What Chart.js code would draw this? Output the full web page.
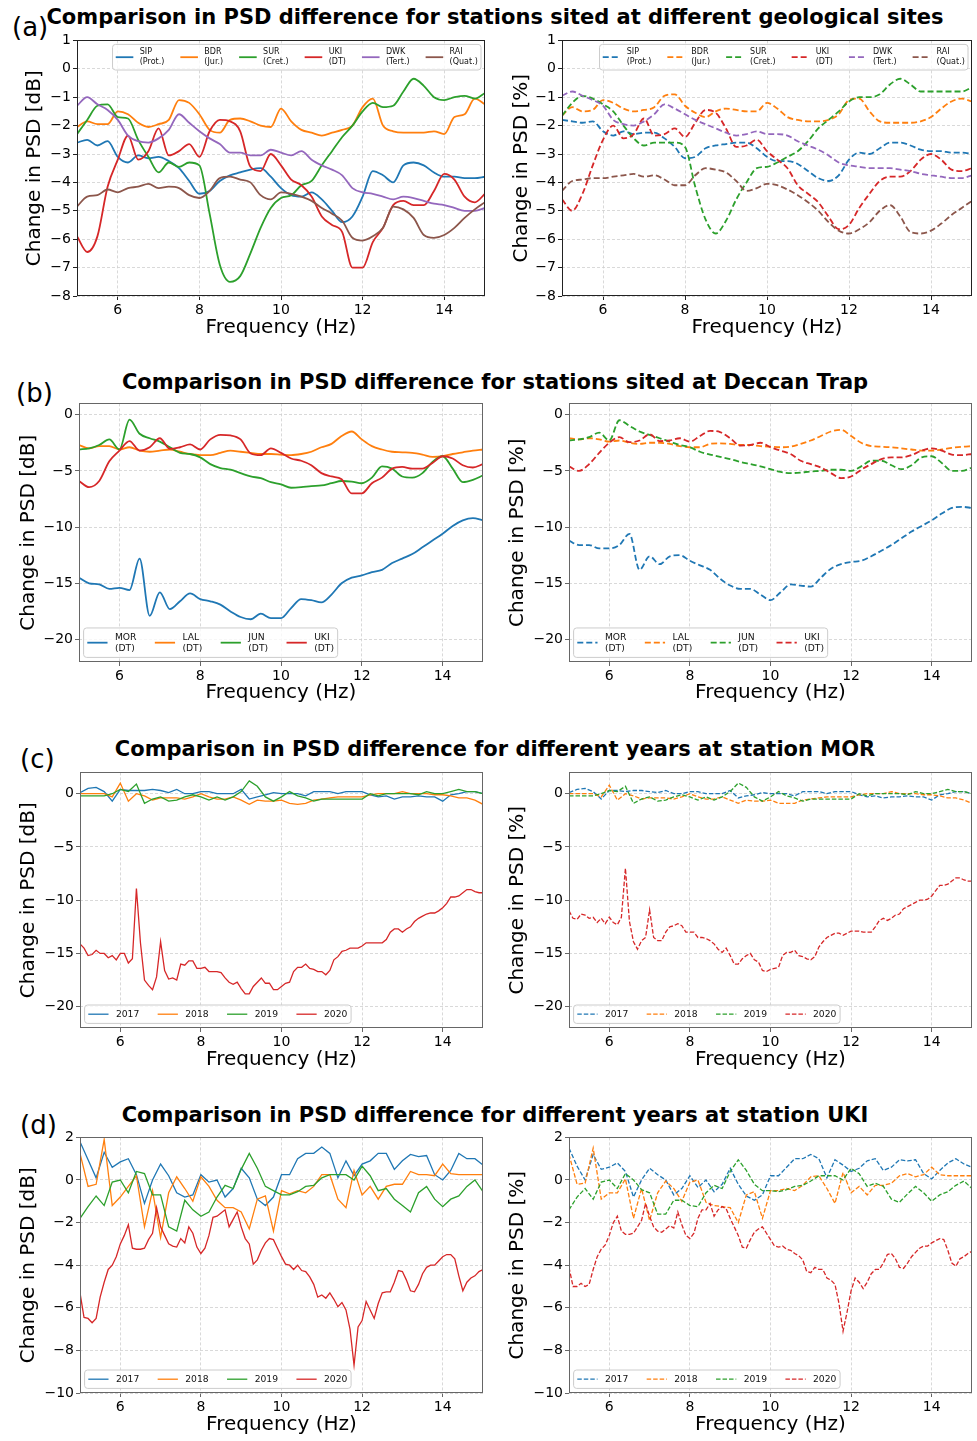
<!DOCTYPE html>
<html>
<head>
<meta charset="utf-8">
<script src="https://cdn.jsdelivr.net/npm/chart.js@4.4.0/dist/chart.umd.min.js"></script>
<style>
  body { margin: 0; width: 977px; height: 1441px; background: #fff; position: relative; overflow: hidden; font-family: "DejaVu Sans", sans-serif; }
  .title { position: absolute; font-weight: bold; font-size: 21px; line-height: 1; white-space: nowrap; transform: translateX(-50%); }
  .tag { position: absolute; font-size: 26px; line-height: 1; }
  canvas { position: absolute; }
</style>
</head>
<body>
<div class="tag" style="left:12px;top:14px">(a)</div>
<div class="title" style="left:495px;top:7px">Comparison in PSD difference for stations sited at different geological sites</div>
<div class="tag" style="left:16px;top:380px">(b)</div>
<div class="title" style="left:495px;top:372px">Comparison in PSD difference for stations sited at Deccan Trap</div>
<div class="tag" style="left:20px;top:746px">(c)</div>
<div class="title" style="left:495px;top:739px">Comparison in PSD difference for different years at station MOR</div>
<div class="tag" style="left:20px;top:1112px">(d)</div>
<div class="title" style="left:495px;top:1105px">Comparison in PSD difference for different years at station UKI</div>

<canvas id="aL"></canvas><canvas id="aR"></canvas>
<canvas id="bL"></canvas><canvas id="bR"></canvas>
<canvas id="cL"></canvas><canvas id="cR"></canvas>
<canvas id="dL"></canvas><canvas id="dR"></canvas>

<script>
// frequency grids (Hz)
const freqS = [5,5.25,5.5,5.75,6,6.25,6.5,6.75,7,7.25,7.5,7.75,8,8.25,8.5,8.75,9,9.25,9.5,9.75,10,10.25,10.5,10.75,11,11.25,11.5,11.75,12,12.25,12.5,12.75,13,13.25,13.5,13.75,14,14.25,14.5,14.75,15];
const freqC = [5,5.2,5.4,5.6,5.8,6,6.2,6.4,6.6,6.8,7,7.2,7.4,7.6,7.8,8,8.2,8.4,8.6,8.8,9,9.2,9.4,9.6,9.8,10,10.2,10.4,10.6,10.8,11,11.2,11.4,11.6,11.8,12,12.2,12.4,12.6,12.8,13,13.2,13.4,13.6,13.8,14,14.2,14.4,14.6,14.8,15];
const freqF = [5,5.1,5.2,5.3,5.4,5.5,5.6,5.7,5.8,5.9,6,6.1,6.2,6.3,6.4,6.5,6.6,6.7,6.8,6.9,7,7.1,7.2,7.3,7.4,7.5,7.6,7.7,7.8,7.9,8,8.1,8.2,8.3,8.4,8.5,8.6,8.7,8.8,8.9,9,9.1,9.2,9.3,9.4,9.5,9.6,9.7,9.8,9.9,10,10.1,10.2,10.3,10.4,10.5,10.6,10.7,10.8,10.9,11,11.1,11.2,11.3,11.4,11.5,11.6,11.7,11.8,11.9,12,12.1,12.2,12.3,12.4,12.5,12.6,12.7,12.8,12.9,13,13.1,13.2,13.3,13.4,13.5,13.6,13.7,13.8,13.9,14,14.1,14.2,14.3,14.4,14.5,14.6,14.7,14.8,14.9,15];

// tick labels
const xTicks = [6, 8, 10, 12, 14];
const yTicksA = [-8, -7, -6, -5, -4, -3, -2, -1, 0, 1];
const yTicksBC = [-20, -15, -10, -5, 0];
const yTicksD = [-10, -8, -6, -4, -2, 0, 2];

// (a) geological sites, dB
const sipDb = [-2.6,-2.5,-2.7,-2.55,-3.1,-3.3,-3.05,-3.15,-3.1,-3.25,-3.5,-3.95,-4.4,-4.3,-3.95,-3.75,-3.65,-3.55,-3.5,-3.8,-4.2,-4.45,-4.5,-4.35,-4.6,-5.0,-5.4,-5.2,-4.5,-3.6,-3.75,-4.0,-3.4,-3.3,-3.4,-3.65,-3.8,-3.8,-3.85,-3.85,-3.8];
const bdrDb = [-2.05,-1.85,-1.95,-1.95,-1.5,-1.6,-1.9,-2.05,-1.95,-1.8,-1.1,-1.2,-1.6,-2.15,-2.25,-1.8,-1.75,-1.85,-2.0,-2.05,-1.4,-1.85,-2.15,-2.25,-2.35,-2.25,-2.15,-2.0,-1.35,-1.05,-2.0,-2.2,-2.25,-2.25,-2.25,-2.2,-2.3,-1.7,-1.6,-1.05,-1.25];
const surDb = [-2.3,-1.8,-1.3,-1.25,-1.7,-1.75,-2.5,-3.1,-3.65,-3.3,-3.45,-3.3,-3.4,-5.1,-6.9,-7.5,-7.3,-6.5,-5.6,-4.9,-4.55,-4.45,-4.1,-3.95,-3.4,-2.9,-2.4,-2.0,-1.5,-1.2,-1.35,-1.3,-0.8,-0.35,-0.6,-1.0,-1.1,-1.0,-0.95,-1.05,-0.85];
const ukiDb = [-5.9,-6.45,-5.9,-4.15,-3.2,-2.35,-3.2,-2.9,-2.1,-3.05,-2.9,-2.65,-3.1,-2.2,-1.8,-1.85,-2.2,-3.45,-3.6,-3.0,-3.4,-3.9,-4.1,-4.5,-5.2,-5.5,-5.75,-7.0,-7.0,-6.1,-5.6,-4.8,-4.65,-4.8,-4.8,-4.3,-3.7,-3.9,-4.5,-4.7,-4.4];
const dwkDb = [-1.3,-1.0,-1.25,-1.45,-1.8,-2.35,-2.55,-2.6,-2.45,-2.15,-1.6,-1.9,-2.2,-2.45,-2.65,-2.95,-2.95,-3.05,-3.05,-2.85,-2.95,-3.05,-2.9,-3.2,-3.4,-3.55,-3.75,-4.2,-4.35,-4.4,-4.5,-4.6,-4.5,-4.55,-4.65,-4.75,-4.8,-4.9,-5.0,-5.0,-4.9];
const raiDb = [-4.85,-4.5,-4.45,-4.25,-4.35,-4.2,-4.15,-4.05,-4.2,-4.15,-4.2,-4.45,-4.55,-4.3,-3.85,-3.8,-3.9,-4.0,-4.45,-4.6,-4.35,-4.4,-4.5,-4.65,-4.9,-5.1,-5.35,-5.95,-6.05,-5.9,-5.6,-4.85,-4.95,-5.25,-5.85,-5.95,-5.85,-5.6,-5.25,-4.95,-4.7];

// (a) geological sites, %
const sipPct = [-1.8,-1.85,-1.9,-1.85,-2.2,-2.35,-2.2,-2.3,-2.25,-2.25,-2.45,-2.75,-3.15,-3.1,-2.8,-2.7,-2.65,-2.6,-2.6,-2.8,-3.1,-3.25,-3.25,-3.35,-3.6,-3.85,-3.95,-3.75,-3.2,-2.95,-3.0,-2.8,-2.6,-2.6,-2.7,-2.85,-2.9,-2.9,-2.95,-2.95,-3.0];
const bdrPct = [-1.65,-1.35,-1.5,-1.45,-1.1,-1.2,-1.4,-1.5,-1.45,-1.35,-0.95,-0.9,-1.3,-1.55,-1.7,-1.5,-1.4,-1.45,-1.5,-1.5,-1.2,-1.4,-1.7,-1.8,-1.85,-1.85,-1.8,-1.6,-1.1,-1.05,-1.5,-1.85,-1.9,-1.9,-1.9,-1.85,-1.7,-1.4,-1.15,-1.05,-1.15];
const surPct = [-1.65,-1.2,-0.95,-1.05,-1.25,-1.5,-2.0,-2.45,-2.7,-2.6,-2.6,-2.6,-2.75,-4.15,-5.3,-5.8,-5.35,-4.6,-4.0,-3.5,-3.45,-3.3,-3.1,-2.9,-2.55,-2.1,-1.8,-1.5,-1.15,-1.0,-1.0,-0.9,-0.55,-0.35,-0.55,-0.8,-0.8,-0.8,-0.8,-0.8,-0.65];
const ukiPct = [-4.6,-5.0,-4.4,-3.4,-2.5,-2.0,-2.45,-2.3,-1.75,-2.35,-2.3,-2.1,-2.4,-1.9,-1.45,-1.55,-2.1,-2.75,-2.7,-2.5,-2.9,-3.2,-3.5,-4.1,-4.4,-4.7,-5.2,-5.65,-5.5,-4.9,-4.4,-3.95,-3.8,-3.8,-3.6,-3.2,-3.0,-3.2,-3.55,-3.6,-3.5];
const dwkPct = [-0.95,-0.8,-0.95,-1.1,-1.3,-1.8,-1.95,-2.0,-1.85,-1.6,-1.25,-1.4,-1.6,-1.8,-1.95,-2.1,-2.25,-2.35,-2.3,-2.2,-2.3,-2.3,-2.35,-2.55,-2.7,-2.85,-3.05,-3.3,-3.4,-3.45,-3.5,-3.5,-3.5,-3.55,-3.6,-3.7,-3.75,-3.8,-3.85,-3.85,-3.75];
const raiPct = [-4.3,-3.95,-3.9,-3.85,-3.85,-3.8,-3.75,-3.7,-3.8,-3.75,-3.9,-4.1,-4.1,-3.75,-3.5,-3.55,-3.65,-3.95,-4.3,-4.2,-4.05,-4.1,-4.25,-4.45,-4.7,-5.0,-5.4,-5.7,-5.8,-5.65,-5.4,-5.0,-4.8,-5.2,-5.75,-5.8,-5.7,-5.45,-5.15,-4.9,-4.65];

// (b) Deccan Trap stations
const morDb = [-14.5,-15.0,-15.1,-15.5,-15.4,-15.6,-12.8,-17.9,-15.8,-17.3,-16.6,-15.9,-16.4,-16.6,-16.9,-17.5,-18.0,-18.2,-17.7,-18.1,-18.1,-17.2,-16.4,-16.5,-16.7,-16.0,-15.0,-14.5,-14.3,-14.0,-13.8,-13.2,-12.8,-12.4,-11.8,-11.2,-10.6,-9.9,-9.4,-9.2,-9.4];
const lalDb = [-2.7,-3.0,-2.8,-2.8,-3.1,-2.9,-3.2,-3.3,-3.2,-3.1,-3.3,-3.5,-3.6,-3.6,-3.4,-3.2,-3.3,-3.4,-3.5,-3.5,-3.55,-3.6,-3.5,-3.3,-2.9,-2.6,-1.9,-1.5,-2.2,-2.8,-3.1,-3.3,-3.35,-3.4,-3.55,-3.75,-3.7,-3.5,-3.35,-3.2,-3.1];
const junDb = [-3.1,-3.0,-2.7,-2.2,-3.1,-0.45,-1.7,-2.1,-2.4,-2.9,-3.4,-3.5,-3.8,-4.4,-4.75,-4.9,-5.2,-5.5,-5.65,-6.0,-6.2,-6.5,-6.45,-6.35,-6.3,-6.1,-5.9,-5.95,-6.1,-5.6,-4.6,-4.8,-5.5,-5.6,-5.2,-4.2,-3.7,-4.8,-6.0,-5.8,-5.4];
const morPct = [-11.2,-11.6,-11.6,-11.9,-11.9,-11.6,-10.6,-13.8,-12.6,-13.3,-12.6,-12.5,-13.0,-13.4,-13.8,-14.6,-15.2,-15.5,-15.5,-16.0,-16.5,-15.8,-15.1,-15.2,-15.3,-14.5,-13.7,-13.3,-13.1,-13.0,-12.6,-12.1,-11.6,-11.0,-10.4,-9.9,-9.4,-8.8,-8.3,-8.2,-8.3];
const lalPct = [-2.1,-2.2,-2.1,-2.2,-2.4,-2.3,-2.5,-2.6,-2.5,-2.5,-2.6,-2.8,-2.9,-2.9,-2.6,-2.55,-2.6,-2.7,-2.7,-2.8,-2.85,-2.9,-2.85,-2.6,-2.3,-1.9,-1.5,-1.35,-1.9,-2.5,-2.8,-2.85,-2.9,-3.0,-3.1,-3.2,-3.2,-3.1,-2.95,-2.85,-2.8];
const junPct = [-2.3,-2.2,-2.0,-1.6,-2.3,-0.5,-1.0,-1.5,-1.8,-2.1,-2.4,-2.7,-2.9,-3.3,-3.55,-3.75,-3.95,-4.2,-4.4,-4.6,-4.85,-5.1,-5.2,-5.15,-5.05,-5.0,-4.9,-4.9,-5.0,-4.6,-4.1,-4.1,-4.5,-4.85,-4.5,-3.8,-3.7,-4.3,-5.0,-5.0,-4.7];

// (c) station MOR by year
const mor2017Db = [0.1,0.5,0.6,0.2,-0.7,0.4,0.3,0.3,0.3,0.4,0.3,0.1,0.4,0.0,0.0,0.2,0.2,0.0,0.0,0.0,0.4,-0.5,-0.3,-0.1,0.1,0.0,0.0,0.0,-0.2,0.2,0.2,0.2,0.0,0.2,0.2,0.2,-0.1,-0.3,-0.2,-0.5,-0.3,-0.3,-0.2,-0.3,-0.3,-0.7,-0.1,0.0,0.2,0.2,0.0];
const mor2018Db = [0.0,0.0,0.0,0.0,-0.3,1.0,-0.7,0.0,-0.2,-0.6,-0.4,-0.4,-0.4,-0.5,-0.3,0.0,-0.3,-0.5,-0.5,-0.3,-0.6,-1.0,-0.6,-0.7,-0.7,-0.6,-0.9,-1.0,-0.9,-0.6,-0.5,-0.4,-0.3,-0.3,-0.3,-0.3,-0.1,0.0,0.0,0.0,0.2,0.0,0.0,0.0,-0.1,-0.1,-0.2,-0.4,-0.4,-0.6,-1.0];
const mor2019Db = [-0.2,-0.2,-0.2,-0.2,0.0,0.4,0.2,0.9,-0.9,-0.5,-0.3,-0.7,-0.6,-0.3,-0.1,-0.3,-0.6,-0.3,-0.6,-0.3,0.2,1.2,0.7,-0.3,-0.7,-0.3,0.2,-0.2,-0.4,-0.7,-0.5,-0.5,-0.5,-0.5,-0.5,-0.5,0.0,-0.2,0.0,0.0,0.0,0.0,-0.1,0.2,0.0,0.0,0.2,0.4,0.2,0.2,0.0];
const mor2020Db = [-14.1,-14.5,-15.2,-15.1,-14.7,-15.0,-15.0,-15.4,-15.2,-15.6,-15.0,-15.0,-15.9,-15.5,-8.9,-14.0,-17.5,-18.0,-18.4,-17.2,-13.9,-16.6,-17.4,-17.3,-17.5,-16.0,-16.1,-15.7,-15.7,-16.4,-16.4,-16.3,-16.7,-16.7,-16.7,-16.8,-17.3,-17.7,-17.9,-17.7,-18.3,-18.8,-18.8,-18.1,-17.7,-17.3,-17.8,-17.8,-18.4,-18.4,-18.1,-17.8,-17.7,-16.7,-16.3,-16.3,-16.0,-16.4,-16.5,-16.7,-16.7,-17.0,-16.6,-15.6,-15.3,-14.8,-14.7,-14.5,-14.5,-14.5,-14.3,-14.0,-14.0,-14.0,-14.0,-14.0,-13.7,-13.0,-12.7,-12.7,-13.0,-12.7,-12.5,-12.0,-11.7,-11.5,-11.3,-11.2,-11.2,-11.0,-10.7,-10.3,-9.7,-9.7,-9.6,-9.3,-9.0,-9.0,-9.2,-9.3,-9.3];
const mor2017Pct = [0.1,0.4,0.5,0.2,-0.5,0.3,0.3,0.2,0.3,0.3,0.2,0.1,0.3,0.0,0.0,0.2,0.2,0.0,0.0,0.0,0.3,-0.4,-0.2,-0.1,0.1,0.0,0.0,0.0,-0.2,0.2,0.2,0.2,0.0,0.2,0.2,0.2,-0.1,-0.3,-0.2,-0.4,-0.3,-0.3,-0.2,-0.3,-0.3,-0.6,-0.1,0.0,0.2,0.2,0.0];
const mor2018Pct = [0.0,0.0,0.0,0.0,-0.3,0.8,-0.6,0.0,-0.2,-0.5,-0.4,-0.4,-0.4,-0.5,-0.3,0.0,-0.3,-0.5,-0.5,-0.3,-0.6,-0.9,-0.6,-0.7,-0.7,-0.6,-0.9,-0.9,-0.9,-0.6,-0.5,-0.4,-0.3,-0.3,-0.3,-0.3,-0.1,0.0,0.0,0.0,0.2,0.0,0.0,0.0,-0.1,-0.1,-0.2,-0.4,-0.4,-0.6,-0.9];
const mor2019Pct = [-0.2,-0.2,-0.2,-0.2,0.0,0.3,0.2,0.7,-0.9,-0.5,-0.3,-0.7,-0.6,-0.3,-0.1,-0.3,-0.6,-0.3,-0.6,-0.3,0.2,1.0,0.6,-0.3,-0.7,-0.3,0.2,-0.2,-0.4,-0.7,-0.5,-0.5,-0.5,-0.5,-0.5,-0.5,0.0,-0.2,0.0,0.0,0.0,0.0,-0.1,0.2,0.0,0.0,0.2,0.4,0.2,0.2,0.0];
const mor2020Pct = [-11.0,-11.7,-11.8,-11.3,-11.4,-11.7,-11.6,-12.1,-11.7,-12.2,-11.6,-12.1,-12.3,-11.6,-7.0,-12.0,-13.9,-14.6,-13.8,-13.5,-10.9,-13.5,-13.8,-13.8,-13.0,-12.5,-12.4,-12.2,-12.4,-13.0,-13.0,-13.0,-13.5,-13.5,-13.6,-13.8,-14.1,-14.6,-14.9,-14.5,-15.2,-16.0,-16.0,-15.5,-15.2,-15.0,-15.6,-15.8,-16.6,-16.7,-16.5,-16.4,-16.3,-15.2,-14.9,-14.9,-14.7,-15.2,-15.3,-15.5,-15.6,-15.3,-14.4,-13.9,-13.5,-13.3,-13.1,-13.1,-13.3,-13.1,-12.9,-12.9,-12.9,-13.0,-13.0,-13.0,-12.5,-11.9,-11.7,-11.9,-11.7,-11.4,-11.3,-10.8,-10.6,-10.4,-10.2,-10.0,-10.0,-9.9,-9.6,-9.1,-8.6,-8.6,-8.5,-8.2,-7.9,-7.9,-8.1,-8.2,-8.2];

// (d) station UKI by year
const uki2017Db = [1.8,0.95,0.1,1.3,0.6,0.85,1.0,0.25,-1.1,0.0,0.75,0.2,-0.6,-0.8,-0.7,0.25,-0.1,0.0,-0.8,-0.4,0.55,0.1,-0.9,-1.2,-0.8,0.25,0.25,1.0,1.25,1.25,1.55,1.25,0.1,0.9,0.2,0.75,0.9,1.25,1.25,0.5,0.9,1.2,1.1,1.15,0.25,0.0,0.45,1.25,1.0,1.0,0.7];
const uki2018Db = [1.25,-0.3,-0.2,1.9,-1.2,-0.8,-0.3,0.2,-2.2,-0.5,-2.7,-0.6,0.15,-0.4,-1.0,0.15,-0.3,-0.95,-1.3,-1.3,-1.5,-2.3,-0.9,-0.75,-2.4,-0.5,-0.65,-0.5,-0.6,-0.3,0.25,0.25,-0.9,-1.3,0.45,-0.7,-0.3,-0.9,-0.3,-0.2,-0.2,0.4,0.25,0.25,0.2,0.75,0.3,0.25,0.25,0.25,0.25];
const uki2019Db = [-1.8,-1.25,-0.75,-1.2,-0.1,0.0,-0.6,0.4,0.3,-0.7,-0.7,-2.2,-2.4,-0.95,-1.4,-1.7,-1.5,-0.8,-0.25,-0.4,0.5,1.25,0.55,-0.3,-0.5,-0.7,-0.7,-0.55,-0.3,-0.25,0.1,0.25,0.25,0.25,0.0,0.65,0.2,-0.5,-0.4,-0.9,-1.2,-1.5,-0.6,-0.3,-0.9,-1.25,-0.9,-0.75,-0.3,0.0,-0.55];
const uki2020Db = [-5.3,-6.45,-6.5,-6.7,-6.5,-5.5,-4.8,-4.2,-4.0,-3.6,-3.0,-2.6,-2.1,-3.2,-3.25,-3.25,-3.2,-2.8,-2.5,-1.3,-2.2,-2.6,-3.0,-3.1,-3.15,-2.75,-2.95,-2.2,-2.5,-3.15,-3.45,-3.2,-2.6,-1.75,-1.7,-1.55,-1.4,-2.2,-1.85,-1.5,-2.2,-2.75,-3.0,-3.95,-3.75,-3.3,-2.95,-2.75,-2.8,-3.2,-3.6,-3.95,-4.0,-4.2,-4.0,-4.25,-4.3,-4.55,-4.9,-5.5,-5.4,-5.55,-5.3,-5.6,-5.95,-5.75,-6.1,-7.0,-8.7,-6.9,-6.6,-5.7,-6.1,-6.5,-5.8,-5.3,-5.25,-5.25,-4.8,-4.25,-4.3,-4.7,-5.2,-5.25,-4.9,-4.4,-4.1,-4.0,-4.0,-3.8,-3.6,-3.5,-3.5,-3.7,-4.5,-5.2,-4.8,-4.6,-4.5,-4.3,-4.2];
const uki2017Pct = [1.5,0.65,0.0,1.2,0.5,0.6,0.8,0.4,-0.8,0.0,0.55,0.25,0.0,-0.7,-0.4,0.2,-0.35,0.0,-0.55,-0.2,0.55,-0.2,-0.75,-0.95,-0.7,0.2,0.2,0.6,1.0,1.0,1.2,1.0,0.1,0.95,0.7,0.4,0.55,0.9,1.0,0.45,0.6,0.95,0.9,0.95,0.3,0.05,0.45,0.8,1.0,0.75,0.6];
const uki2018Pct = [1.2,-0.2,-0.15,1.5,-0.9,-0.6,-0.6,0.05,-1.8,-0.4,-1.9,-0.6,-0.05,-0.4,-1.0,-0.1,0.0,-1.05,-1.2,-1.25,-1.3,-2.0,-0.7,-0.55,-1.8,-0.5,-0.5,-0.4,-0.5,-0.25,0.15,0.2,-0.4,-1.1,0.35,-0.6,-0.3,-0.7,-0.25,-0.25,-0.15,0.2,0.3,0.15,0.25,0.6,0.25,0.2,0.2,0.2,0.2];
const uki2019Pct = [-1.4,-0.8,-0.4,-0.9,-0.1,0.0,-0.4,0.3,0.0,-0.45,-0.6,-1.6,-1.6,-0.95,-0.95,-1.2,-1.25,-0.6,-0.25,-0.4,0.4,0.95,0.45,-0.2,-0.5,-0.5,-0.55,-0.45,-0.3,-0.25,-0.05,0.2,0.2,0.2,0.0,0.55,0.3,-0.3,-0.15,-0.3,-0.9,-1.05,-0.65,-0.3,-0.6,-1.0,-0.7,-0.55,-0.25,-0.05,-0.4];
const uki2020Pct = [-4.1,-5.0,-5.0,-4.85,-5.0,-4.9,-4.2,-3.6,-3.25,-3.05,-2.6,-2.0,-1.7,-2.4,-2.55,-2.55,-2.5,-2.2,-1.9,-1.1,-1.7,-2.2,-2.4,-2.45,-2.3,-2.15,-2.25,-1.5,-2.1,-2.6,-2.75,-2.5,-1.8,-1.4,-1.4,-1.1,-1.7,-1.4,-1.25,-1.35,-1.8,-2.2,-2.6,-3.15,-3.2,-2.8,-2.45,-2.3,-2.2,-2.5,-2.8,-3.1,-3.15,-3.1,-3.25,-3.3,-3.45,-3.55,-3.75,-4.3,-4.35,-4.1,-4.2,-4.2,-4.6,-4.7,-4.9,-5.8,-7.1,-6.2,-5.2,-4.6,-4.8,-5.1,-4.8,-4.4,-4.2,-4.2,-3.9,-3.5,-3.45,-3.7,-4.1,-4.15,-3.9,-3.6,-3.4,-3.2,-3.1,-3.1,-2.95,-2.85,-2.75,-2.8,-3.3,-3.9,-4.05,-3.7,-3.6,-3.45,-3.35];

const C = { blue: '#1f77b4', orange: '#ff7f0e', green: '#2ca02c', red: '#d62728', purple: '#9467bd', brown: '#8c564b' };

Chart.defaults.font.family = '"DejaVu Sans", sans-serif';
Chart.defaults.color = '#000';

function fmt(v) { return v < 0 ? '\u2212' + Math.abs(v) : String(v); }

// frame box and in-axes legend, drawn like the matplotlib original
function decor(cfg) {
  return {
    id: 'decor',
    afterDraw(chart) {
      const { ctx, chartArea: a } = chart;
      ctx.save();
      ctx.setLineDash([]);
      ctx.strokeStyle = cfg.frame;
      ctx.lineWidth = 1;
      ctx.strokeRect(Math.round(a.left) + 0.5, Math.round(a.top) + 0.5, Math.round(a.right - a.left) - 1, Math.round(a.bottom - a.top) - 1);

      const fs = cfg.legendSize;
      ctx.font = fs + 'px "DejaVu Sans"';
      const items = chart.data.datasets.map(d => ({ lines: d.label.split('\n'), color: d.borderColor, dash: d.borderDash || [], lw: d.borderWidth }));
      items.forEach(it => { it.w = Math.max(...it.lines.map(t => ctx.measureText(t).width)); });
      const lh = fs * 1.2;
      const rows = Math.max(...items.map(it => it.lines.length));
      const handle = 2.2 * fs, pad = 0.8 * fs, gap = 2 * fs, bp = 0.4 * fs, ax = 0.5 * fs;
      const w = 2 * bp + items.reduce((s, it) => s + handle + pad + it.w, 0) + gap * (items.length - 1);
      const h = 2 * bp + rows * lh;
      const x0 = cfg.legendLoc === 'upper right' ? a.right - ax - w : a.left + ax;
      const y0 = cfg.legendLoc === 'upper right' ? a.top + ax : a.bottom - ax - h;
      ctx.beginPath();
      if (ctx.roundRect) ctx.roundRect(x0, y0, w, h, 3); else ctx.rect(x0, y0, w, h);
      ctx.fillStyle = 'rgba(255,255,255,0.8)';
      ctx.fill();
      ctx.strokeStyle = '#cccccc';
      ctx.stroke();

      let x = x0 + bp;
      const cy = y0 + h / 2;
      ctx.textBaseline = 'middle';
      ctx.textAlign = 'left';
      items.forEach(it => {
        ctx.beginPath();
        ctx.setLineDash(it.dash);
        ctx.strokeStyle = it.color;
        ctx.lineWidth = it.lw;
        ctx.moveTo(x, cy);
        ctx.lineTo(x + handle, cy);
        ctx.stroke();
        ctx.setLineDash([]);
        ctx.fillStyle = '#111';
        const ty = cy - (it.lines.length - 1) * lh / 2;
        it.lines.forEach((t, k) => ctx.fillText(t, x + handle + pad, ty + k * lh));
        x += handle + pad + it.w + gap;
      });
      ctx.restore();
    }
  };
}

function makePanel(cfg) {
  const cv = document.getElementById(cfg.id);
  const cl = cfg.yTitleX - 12, ct = cfg.top - 10, cr = cfg.right + 4, cb = cfg.xTitleY + 12;
  cv.width = cr - cl;
  cv.height = cb - ct;
  cv.style.left = cl + 'px';
  cv.style.top = ct + 'px';
  const yW = cfg.left - cl, xH = cb - cfg.bottom;
  const n = cfg.series.length;
  const gridOpts = { color: '#cfcfcf', lineWidth: 0.8, tickColor: cfg.frame, tickLength: 4, tickWidth: 1 };

  new Chart(cv, {
    type: 'line',
    data: {
      datasets: cfg.series.map((s, i) => ({
        label: s.label,
        data: s.x.map((x, k) => ({ x: x, y: s.y[k] })),
        borderColor: s.color,
        borderWidth: cfg.lw,
        borderDash: cfg.dash,
        pointRadius: 0,
        fill: false,
        tension: cfg.smooth ? 0.4 : 0,
        cubicInterpolationMode: cfg.smooth ? 'monotone' : 'default',
        order: n - i
      }))
    },
    options: {
      responsive: false,
      animation: false,
      devicePixelRatio: 1,
      layout: { padding: { top: 10, right: 4, left: 0, bottom: 0 } },
      plugins: { legend: { display: false }, tooltip: { enabled: false } },
      scales: {
        x: {
          type: 'linear', min: 5, max: 15,
          afterBuildTicks: s => { s.ticks = xTicks.map(v => ({ value: v })); },
          afterFit: s => { s.height = xH; },
          ticks: { font: { size: 14 }, color: '#000', padding: 2, maxRotation: 0, autoSkip: false, callback: fmt },
          grid: gridOpts,
          border: { display: false, dash: [3, 2] },
          title: { display: true, text: 'Frequency (Hz)', font: { size: 20 }, color: '#000', padding: 0 }
        },
        y: {
          type: 'linear', min: cfg.yMin, max: cfg.yMax,
          afterBuildTicks: s => { s.ticks = cfg.yTicks.map(v => ({ value: v })); },
          afterFit: s => { s.width = yW; },
          ticks: { font: { size: 14 }, color: '#000', padding: 2, autoSkip: false, callback: fmt },
          grid: gridOpts,
          border: { display: false, dash: [3, 2] },
          title: { display: true, text: cfg.yTitle, font: { size: 20 }, color: '#000', padding: 0 }
        }
      }
    },
    plugins: [decor(cfg)]
  });
}

// panel (a)
const geoLabels = ['SIP\n(Prot.)', 'BDR\n(Jur.)', 'SUR\n(Cret.)', 'UKI\n(DT)', 'DWK\n(Tert.)', 'RAI\n(Quat.)'];
const geoColors = [C.blue, C.orange, C.green, C.red, C.purple, C.brown];
const geoDb = [sipDb, bdrDb, surDb, ukiDb, dwkDb, raiDb];
const geoPct = [sipPct, bdrPct, surPct, ukiPct, dwkPct, raiPct];

makePanel({
  id: 'aL', left: 77, top: 40, right: 485, bottom: 296, yTitleX: 35, xTitleY: 328,
  yMin: -8, yMax: 1, yTicks: yTicksA, yTitle: 'Change in PSD [dB]',
  lw: 1.8, dash: [], smooth: true, frame: '#222', legendSize: 8, legendLoc: 'upper right',
  series: geoDb.map((y, i) => ({ label: geoLabels[i], color: geoColors[i], x: freqS, y: y }))
});
makePanel({
  id: 'aR', left: 562, top: 40, right: 972, bottom: 296, yTitleX: 522, xTitleY: 328,
  yMin: -8, yMax: 1, yTicks: yTicksA, yTitle: 'Change in PSD [%]',
  lw: 1.8, dash: [6, 3], smooth: true, frame: '#222', legendSize: 8, legendLoc: 'upper right',
  series: geoPct.map((y, i) => ({ label: geoLabels[i], color: geoColors[i], x: freqS, y: y }))
});

// panel (b)
const dtLabels = ['MOR\n(DT)', 'LAL\n(DT)', 'JUN\n(DT)', 'UKI\n(DT)'];
const dtColors = [C.blue, C.orange, C.green, C.red];
makePanel({
  id: 'bL', left: 79, top: 403, right: 483, bottom: 662, yTitleX: 29, xTitleY: 693,
  yMin: -22, yMax: 1, yTicks: yTicksBC, yTitle: 'Change in PSD [dB]',
  lw: 1.8, dash: [], smooth: true, frame: '#666', legendSize: 9.2, legendLoc: 'lower left',
  series: [morDb, lalDb, junDb, ukiDb].map((y, i) => ({ label: dtLabels[i], color: dtColors[i], x: freqS, y: y }))
});
makePanel({
  id: 'bR', left: 569, top: 403, right: 972, bottom: 662, yTitleX: 518, xTitleY: 693,
  yMin: -22, yMax: 1, yTicks: yTicksBC, yTitle: 'Change in PSD [%]',
  lw: 1.8, dash: [6, 3], smooth: true, frame: '#666', legendSize: 9.2, legendLoc: 'lower left',
  series: [morPct, lalPct, junPct, ukiPct].map((y, i) => ({ label: dtLabels[i], color: dtColors[i], x: freqS, y: y }))
});

// panels (c) and (d)
const years = ['2017', '2018', '2019', '2020'];
function yearSeries(a, b, c, d) {
  return [
    { label: years[0], color: C.blue, x: freqC, y: a },
    { label: years[1], color: C.orange, x: freqC, y: b },
    { label: years[2], color: C.green, x: freqC, y: c },
    { label: years[3], color: C.red, x: freqF, y: d }
  ];
}
makePanel({
  id: 'cL', left: 80, top: 772, right: 483, bottom: 1028, yTitleX: 29, xTitleY: 1060,
  yMin: -22, yMax: 2, yTicks: yTicksBC, yTitle: 'Change in PSD [dB]',
  lw: 1.3, dash: [], smooth: false, frame: '#666', legendSize: 9.2, legendLoc: 'lower left',
  series: yearSeries(mor2017Db, mor2018Db, mor2019Db, mor2020Db)
});
makePanel({
  id: 'cR', left: 569, top: 772, right: 972, bottom: 1028, yTitleX: 518, xTitleY: 1060,
  yMin: -22, yMax: 2, yTicks: yTicksBC, yTitle: 'Change in PSD [%]',
  lw: 1.3, dash: [4.5, 2], smooth: false, frame: '#666', legendSize: 9.2, legendLoc: 'lower left',
  series: yearSeries(mor2017Pct, mor2018Pct, mor2019Pct, mor2020Pct)
});
makePanel({
  id: 'dL', left: 80, top: 1137, right: 483, bottom: 1393, yTitleX: 29, xTitleY: 1425,
  yMin: -10, yMax: 2, yTicks: yTicksD, yTitle: 'Change in PSD [dB]',
  lw: 1.3, dash: [], smooth: false, frame: '#666', legendSize: 9.2, legendLoc: 'lower left',
  series: yearSeries(uki2017Db, uki2018Db, uki2019Db, uki2020Db)
});
makePanel({
  id: 'dR', left: 569, top: 1137, right: 972, bottom: 1393, yTitleX: 518, xTitleY: 1425,
  yMin: -10, yMax: 2, yTicks: yTicksD, yTitle: 'Change in PSD [%]',
  lw: 1.3, dash: [4.5, 2], smooth: false, frame: '#666', legendSize: 9.2, legendLoc: 'lower left',
  series: yearSeries(uki2017Pct, uki2018Pct, uki2019Pct, uki2020Pct)
});
</script>
</body>
</html>
